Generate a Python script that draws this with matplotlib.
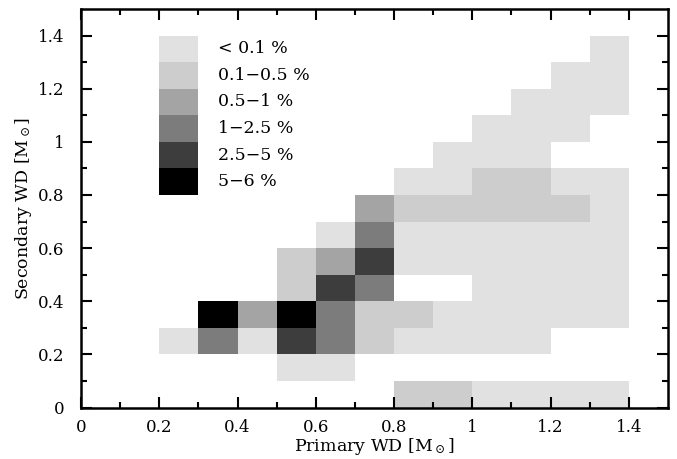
import numpy as np
import matplotlib
matplotlib.use('Agg')
from matplotlib import pyplot as plt
from matplotlib.colors import ListedColormap, BoundaryNorm

# bin edges (0.1 Msun bins)
x_edges = np.arange(0, 1.41, 0.1)
y_edges = np.arange(0, 1.41, 0.1)

# level per cell, rows = secondary mass bins (0.0-0.1 upward), cols = primary mass bins
# 0 = empty, 1 = <0.1%, 2 = 0.1-0.5%, 3 = 0.5-1%, 4 = 1-2.5%, 5 = 2.5-5%, 6 = 5-6%
levels = [
    [0, 0, 0, 0, 0, 0, 0, 0, 2, 2, 1, 1, 1, 1],
    [0, 0, 0, 0, 0, 1, 1, 0, 0, 0, 0, 0, 0, 0],
    [0, 0, 1, 4, 1, 5, 4, 2, 1, 1, 1, 1, 0, 0],
    [0, 0, 0, 6, 3, 6, 4, 2, 2, 1, 1, 1, 1, 1],
    [0, 0, 0, 0, 0, 2, 5, 4, 0, 0, 1, 1, 1, 1],
    [0, 0, 0, 0, 0, 2, 3, 5, 1, 1, 1, 1, 1, 1],
    [0, 0, 0, 0, 0, 0, 1, 4, 1, 1, 1, 1, 1, 1],
    [0, 0, 0, 0, 0, 0, 0, 3, 2, 2, 2, 2, 2, 1],
    [0, 0, 0, 0, 0, 0, 0, 0, 1, 1, 2, 2, 1, 1],
    [0, 0, 0, 0, 0, 0, 0, 0, 0, 1, 1, 1, 0, 0],
    [0, 0, 0, 0, 0, 0, 0, 0, 0, 0, 1, 1, 1, 0],
    [0, 0, 0, 0, 0, 0, 0, 0, 0, 0, 0, 1, 1, 1],
    [0, 0, 0, 0, 0, 0, 0, 0, 0, 0, 0, 0, 1, 1],
    [0, 0, 0, 0, 0, 0, 0, 0, 0, 0, 0, 0, 0, 1],
]

grays = ['#ffffff', '#e0e1e0', '#cccdcc', '#a3a4a3', '#7b7c7b', '#3d3d3d', '#000000']
legend_labels = ['< 0.1 %', '0.1\u22120.5 %', '0.5\u22121 %', '1\u22122.5 %', '2.5\u22125 %', '5\u22126 %']
tick_labels = ['0', '0.2', '0.4', '0.6', '0.8', '1', '1.2', '1.4']

plt.rcParams['font.family'] = ['DejaVu Serif']
plt.rcParams['mathtext.fontset'] = 'dejavuserif'

fig = plt.figure(figsize=(6.77, 4.59), dpi=100)
ax = fig.add_axes([0.1196, 0.1122, 0.8671, 0.8682])

cmap = ListedColormap(grays)
norm = BoundaryNorm(np.arange(-0.5, 7.5, 1), cmap.N)
ax.pcolormesh(x_edges, y_edges, np.array(levels), cmap=cmap, norm=norm)

# legend drawn as a column of boxes inside the plot
for k, lab in enumerate(legend_labels):
    ytop = 1.4 - 0.1 * k
    ax.bar(0.2, 0.1, width=0.1, bottom=ytop - 0.1, align='edge',
           color=grays[k + 1], linewidth=0)
    ax.text(0.35, ytop - 0.05, lab, fontsize=12.5, va='center', ha='left')

ax.set_xlim(0, 1.5)
ax.set_ylim(0, 1.5)
ax.set_xticks(np.arange(0, 1.41, 0.2))
ax.set_xticklabels(tick_labels)
ax.set_yticks(np.arange(0, 1.41, 0.2))
ax.set_yticklabels(tick_labels)
ax.set_xticks(np.arange(0.1, 1.5, 0.2), minor=True)
ax.set_yticks(np.arange(0.1, 1.5, 0.2), minor=True)
ax.tick_params(which='both', direction='in', top=True, right=True, width=1.5, labelsize=12)
ax.tick_params(which='major', length=8)
ax.tick_params(which='minor', length=4)
ax.tick_params(axis='x', pad=8)
ax.tick_params(axis='y', pad=12)
for sp in ax.spines.values():
    sp.set_linewidth(1.8)

ax.set_xlabel(r'Primary WD [M$_\odot$]', fontsize=12.5, labelpad=0)
ax.set_ylabel(r'Secondary WD [M$_\odot$]', fontsize=12.5, labelpad=3)

fig.savefig('out.png', dpi=100)
